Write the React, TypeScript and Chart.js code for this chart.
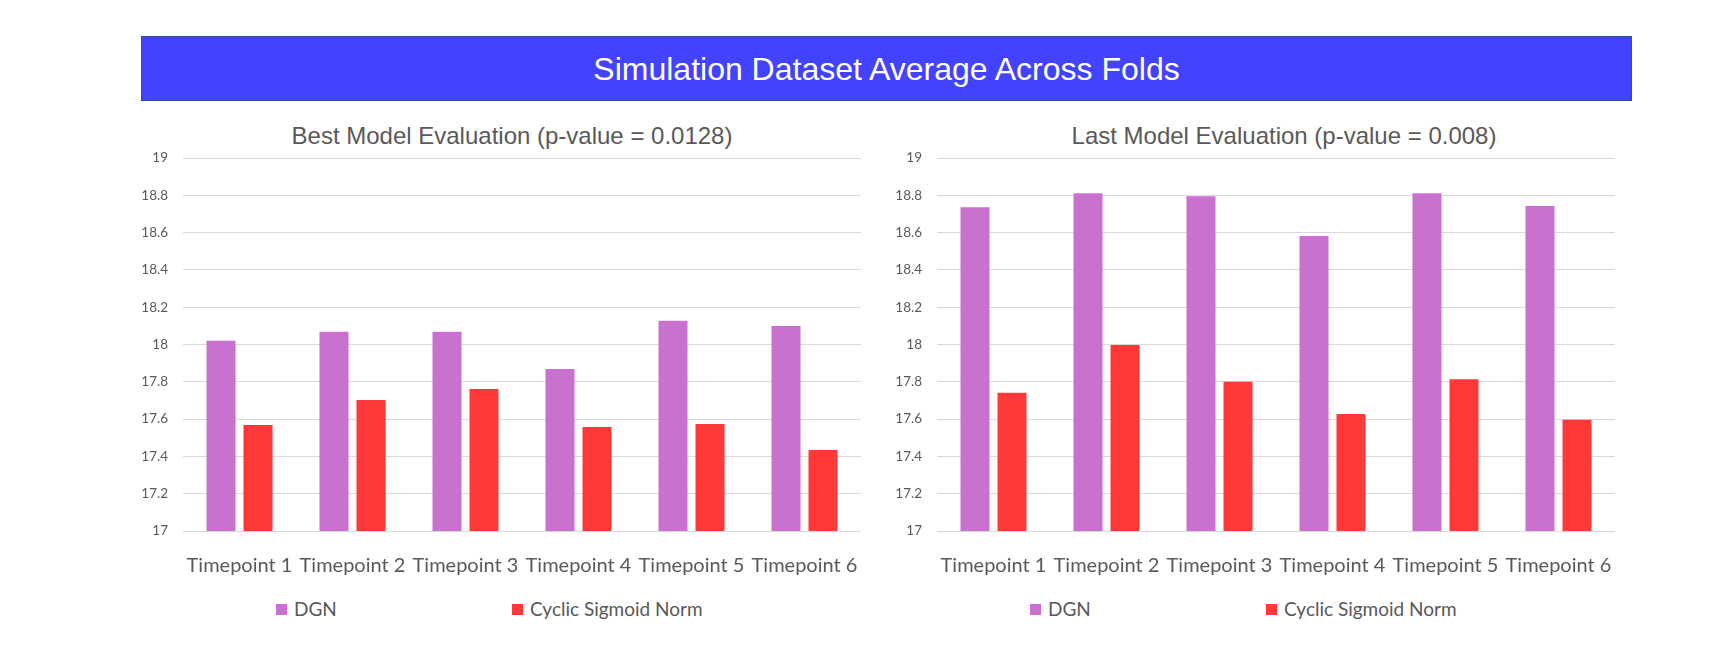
import { useEffect, useRef } from 'react';
import { Chart, registerables } from 'chart.js';

Chart.register(...registerables);

// values
const timepoints = ['Timepoint 1', 'Timepoint 2', 'Timepoint 3', 'Timepoint 4', 'Timepoint 5', 'Timepoint 6'];
const seriesNames = ['DGN', 'Cyclic Sigmoid Norm'];

const bestDGN = [18.02, 18.068, 18.068, 17.869, 18.127, 18.1];
const bestCSN = [17.569, 17.703, 17.762, 17.558, 17.574, 17.435];

const lastDGN = [18.737, 18.812, 18.796, 18.582, 18.812, 18.743];
const lastCSN = [17.741, 17.997, 17.8, 17.627, 17.814, 17.597];

const yMin = 17;
const yMax = 19;
const yStep = 0.2;

const DGN_COLOR = '#CA70CE';
const CSN_COLOR = '#FF3939';
const TEXT = '#595959';
const GRID = '#D9D9D9';

interface EvalChartProps {
  id: string;
  left: number;
  dgn: number[];
  csn: number[];
}

function EvalChart({ id, left, dgn, csn }: EvalChartProps) {
  const chartRef = useRef<Chart | null>(null);
  const canvasRef = useRef<HTMLCanvasElement>(null);

  useEffect(() => {
    if (!canvasRef.current) return;
    if (chartRef.current) {
      chartRef.current.destroy();
      chartRef.current = null;
    }
    const ctx = canvasRef.current.getContext('2d');
    if (!ctx) return;

    chartRef.current = new Chart(ctx, {
      type: 'bar',
      data: {
        labels: timepoints,
        datasets: [
          { label: seriesNames[0], data: dgn, backgroundColor: DGN_COLOR, barPercentage: 0.784, categoryPercentage: 0.655 },
          { label: seriesNames[1], data: csn, backgroundColor: CSN_COLOR, barPercentage: 0.784, categoryPercentage: 0.655 },
        ],
      },
      options: {
        responsive: true,
        maintainAspectRatio: false,
        animation: false,
        // y axis asks for ~23px on top (half label + tick padding)
        layout: { padding: { top: 0, right: 29, bottom: 0, left: 0 } },
        plugins: {
          legend: { display: false },
          title: { display: false },
          tooltip: { enabled: false },
        },
        scales: {
          x: {
            grid: { display: false },
            border: { display: false },
            ticks: {
              color: TEXT,
              font: { family: 'Lato', size: 20 },
              padding: 15,
              maxRotation: 0,
              minRotation: 0,
              autoSkip: false,
            },
            afterFit: (s: any) => {
              s.height = 50;
            },
          },
          y: {
            min: yMin,
            max: yMax,
            grid: { color: GRID, drawTicks: false },
            border: { display: false },
            ticks: {
              stepSize: yStep,
              padding: 15,
              color: TEXT,
              font: { family: 'Lato', size: 13.5 },
              callback: (v: any) => Number(Number(v).toFixed(1)).toString(),
            },
            afterFit: (s: any) => {
              s.width = 83;
            },
          },
        },
      },
    });

    return () => {
      if (chartRef.current) {
        chartRef.current.destroy();
        chartRef.current = null;
      }
    };
  }, [id, dgn, csn]);

  return (
    <div style={{ position: 'absolute', left, top: 135, width: 790, height: 446 }}>
      <canvas ref={canvasRef} id={id} />
    </div>
  );
}

function Title({ text, center }: { text: string; center: number }) {
  return (
    <div
      style={{
        position: 'absolute',
        left: center - 300,
        top: 122,
        width: 600,
        textAlign: 'center',
        fontFamily: '"Liberation Sans", Arial, sans-serif',
        fontSize: 24,
        lineHeight: '28px',
        color: TEXT,
        whiteSpace: 'nowrap',
      }}
    >
      {text}
    </div>
  );
}

function LegendItem({ x, color, text }: { x: number; color: string; text: string }) {
  return (
    <>
      <div style={{ position: 'absolute', left: x, top: 604, width: 11, height: 11, background: color }} />
      <div
        style={{
          position: 'absolute',
          left: x + 18,
          top: 598,
          fontFamily: 'Lato, sans-serif',
          fontSize: 19,
          lineHeight: '22px',
          color: TEXT,
          whiteSpace: 'nowrap',
        }}
      >
        {text}
      </div>
    </>
  );
}

export default function App() {
  return (
    <div style={{ position: 'fixed', left: 0, top: 0, width: 1728, height: 672, background: '#fff', overflow: 'hidden' }}>
      <div
        style={{
          position: 'absolute',
          left: 141,
          top: 36,
          width: 1491,
          height: 65,
          boxSizing: 'border-box',
          background: '#4343FF',
          border: '1px solid #2F528F',
          display: 'flex',
          alignItems: 'center',
          justifyContent: 'center',
          paddingTop: 1,
          color: '#fff',
          fontFamily: '"Liberation Sans", Arial, sans-serif',
          fontSize: 32,
        }}
      >
        Simulation Dataset Average Across Folds
      </div>

      <Title text="Best Model Evaluation (p-value = 0.0128)" center={512} />
      <Title text="Last Model Evaluation (p-value = 0.008)" center={1284} />

      <EvalChart id="best" left={100} dgn={bestDGN} csn={bestCSN} />
      <EvalChart id="last" left={854} dgn={lastDGN} csn={lastCSN} />

      <LegendItem x={276} color={DGN_COLOR} text={seriesNames[0]} />
      <LegendItem x={512} color={CSN_COLOR} text={seriesNames[1]} />
      <LegendItem x={1030} color={DGN_COLOR} text={seriesNames[0]} />
      <LegendItem x={1266} color={CSN_COLOR} text={seriesNames[1]} />
    </div>
  );
}
